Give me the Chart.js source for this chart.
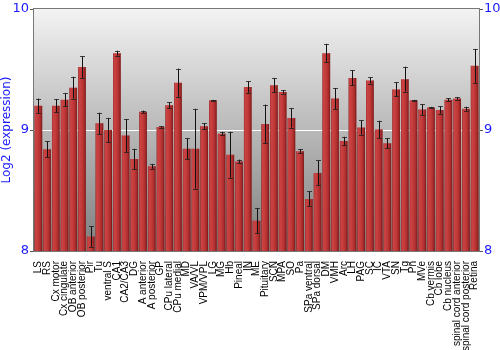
<!DOCTYPE html>
<html>
<head>
<meta charset="utf-8">
<script src="https://cdn.jsdelivr.net/npm/chart.js@4"></script>
<style>
  html, body { margin: 0; padding: 0; background: #fff; }
  #wrap { width: 500px; height: 350px; }
</style>
</head>
<body>
<div id="wrap"><canvas id="myChart"></canvas></div>
<script>
var regions = ['LS', 'RS', 'Cx motor', 'Cx cingulate', 'OB anterior', 'OB posterior', 'Pir', 'Tu',
  'ventral S', 'CA1', 'CA2/CA3', 'DG', 'A anterior', 'A posterior', 'GP', 'CPu lateral', 'CPu medial',
  'MD', 'VA/VL', 'VPM/VPL', 'LG', 'MG', 'Hb', 'Pineal', 'IN', 'ME', 'Pituitary', 'SCN', 'MPA', 'SO',
  'Pa', 'SPa ventral', 'SPa dorsal', 'DM', 'VMH', 'Arc', 'LH', 'PAG', 'SC', 'IC', 'VTA', 'SN', 'Tg',
  'Pn', 'MVe', 'Cb vermis', 'Cb lobe', 'Cb nucleus', 'spinal cord anterior', 'spinal cord posterior', 'Retina'];

var expression = [9.20, 8.84, 9.20, 9.25, 9.35, 9.52, 8.12, 9.055,
  9.00, 9.635, 8.955, 8.76, 9.15, 8.70, 9.025, 9.205, 9.39,
  8.845, 8.845, 9.03, 9.245, 8.97, 8.795, 8.74, 9.355, 8.25, 9.05, 9.37, 9.315, 9.10,
  8.825, 8.43, 8.645, 9.635, 9.26, 8.91, 9.43, 9.02, 9.41, 9.005, 8.89, 9.335, 9.42,
  9.245, 9.17, 9.185, 9.165, 9.25, 9.26, 9.175, 9.53];

var stderr = [0.06, 0.065, 0.055, 0.055, 0.09, 0.09, 0.085, 0.088,
  0.10, 0.02, 0.135, 0.085, 0.01, 0.02, 0.005, 0.025, 0.117,
  0.085, 0.33, 0.025, 0.004, 0.015, 0.19, 0.015, 0.048, 0.105, 0.16, 0.06, 0.014, 0.08,
  0.017, 0.062, 0.103, 0.077, 0.087, 0.034, 0.062, 0.059, 0.026, 0.072, 0.041, 0.058, 0.103,
  0.004, 0.045, 0.006, 0.03, 0.014, 0.01, 0.017, 0.14];

var yTicks = [8, 9, 10];

var blue = '#1a1aff';

// grey gradient behind the bars, shading + error bars on top, then the frame
var backdrop = {
  id: 'backdrop',
  beforeDatasetsDraw: function(chart) {
    var a = chart.chartArea, c = chart.ctx;
    var g = c.createLinearGradient(0, a.top, 0, a.bottom);
    g.addColorStop(0, '#f3f3f3');
    g.addColorStop(1, '#7e7e7e');
    c.save();
    c.fillStyle = g;
    c.fillRect(a.left, a.top, a.right - a.left, a.bottom - a.top);
    var y9 = chart.scales.y.getPixelForValue(9);
    c.strokeStyle = '#ffffff';
    c.lineWidth = 1;
    c.beginPath();
    c.moveTo(a.left, Math.round(y9) + 0.5);
    c.lineTo(a.right, Math.round(y9) + 0.5);
    c.stroke();
    c.restore();
  },
  afterDatasetsDraw: function(chart) {
    var c = chart.ctx, a = chart.chartArea;
    var meta = chart.getDatasetMeta(0);
    var ys = chart.scales.y;
    c.save();
    c.beginPath();
    c.rect(a.left, a.top, a.right - a.left, a.bottom - a.top);
    c.clip();
    meta.data.forEach(function(bar, i) {
      var w = bar.width, x0 = bar.x - w / 2;
      var g = c.createLinearGradient(x0, 0, x0 + w, 0);
      g.addColorStop(0, 'rgba(90,10,10,0.55)');
      g.addColorStop(0.15, 'rgba(255,120,120,0.2)');
      g.addColorStop(0.4, 'rgba(255,110,110,0.12)');
      g.addColorStop(0.75, 'rgba(80,0,0,0.15)');
      g.addColorStop(1, 'rgba(60,0,0,0.55)');
      c.fillStyle = g;
      c.fillRect(x0, bar.y, w, a.bottom - bar.y);
      var hi = ys.getPixelForValue(expression[i] + stderr[i]);
      var lo = ys.getPixelForValue(expression[i] - stderr[i]);
      var x = Math.round(bar.x) + 0.5;
      c.strokeStyle = '#111';
      c.lineWidth = 1;
      c.beginPath();
      c.moveTo(x, hi);
      c.lineTo(x, lo);
      c.stroke();
      c.strokeStyle = 'rgba(30,30,30,0.8)';
      c.beginPath();
      c.moveTo(x - 2.5, Math.round(hi) + 0.5);
      c.lineTo(x + 2.5, Math.round(hi) + 0.5);
      c.moveTo(x - 2.5, Math.round(lo) + 0.5);
      c.lineTo(x + 2.5, Math.round(lo) + 0.5);
      c.stroke();
    });
    c.restore();
    c.save();
    c.strokeStyle = '#777';
    c.lineWidth = 1;
    c.strokeRect(Math.round(a.left) - 0.5, Math.round(a.top) - 0.5,
      Math.round(a.right - a.left) + 1, Math.round(a.bottom - a.top) + 1);
    c.restore();
  }
};

var ctx = document.getElementById('myChart').getContext('2d');
var myChart = new Chart(ctx, {
  type: 'bar',
  data: {
    labels: regions,
    datasets: [{
      data: expression,
      backgroundColor: '#bd3535',
      borderWidth: 0,
      categoryPercentage: 1,
      barPercentage: 0.88
    }]
  },
  options: {
    responsive: true,
    maintainAspectRatio: false,
    animation: false,
    layout: { padding: { top: 9, left: 0, right: 0, bottom: 0 } },
    plugins: {
      legend: { display: false },
      tooltip: { enabled: false }
    },
    scales: {
      x: {
        grid: { display: false },
        border: { display: false },
        ticks: {
          autoSkip: false,
          maxRotation: 90,
          minRotation: 90,
          padding: 2,
          color: '#000',
          font: { family: 'Liberation Sans', size: 10 }
        },
        afterFit: function(scale) { scale.height = 99; }
      },
      y: {
        min: 8,
        max: 10,
        afterBuildTicks: function(scale) {
          scale.ticks = yTicks.map(function(v) { return { value: v }; });
        },
        grid: { drawOnChartArea: false, tickLength: 4, tickColor: '#555' },
        border: { display: false },
        ticks: {
          color: blue,
          padding: 1,
          font: { family: 'DejaVu Sans', size: 13 }
        },
        title: {
          display: true,
          text: 'Log2 (expression)',
          color: blue,
          padding: 0,
          font: { family: 'DejaVu Sans', size: 12 }
        },
        afterFit: function(scale) { scale.width = 34; }
      },
      y2: {
        position: 'right',
        min: 8,
        max: 10,
        afterBuildTicks: function(scale) {
          scale.ticks = yTicks.map(function(v) { return { value: v }; });
        },
        grid: { drawOnChartArea: false, tickLength: 4, tickColor: '#555' },
        border: { display: false },
        ticks: {
          color: blue,
          padding: 1,
          font: { family: 'DejaVu Sans', size: 13 }
        },
        afterFit: function(scale) { scale.width = 21; }
      }
    }
  },
  plugins: [backdrop]
});
</script>
</body>
</html>
